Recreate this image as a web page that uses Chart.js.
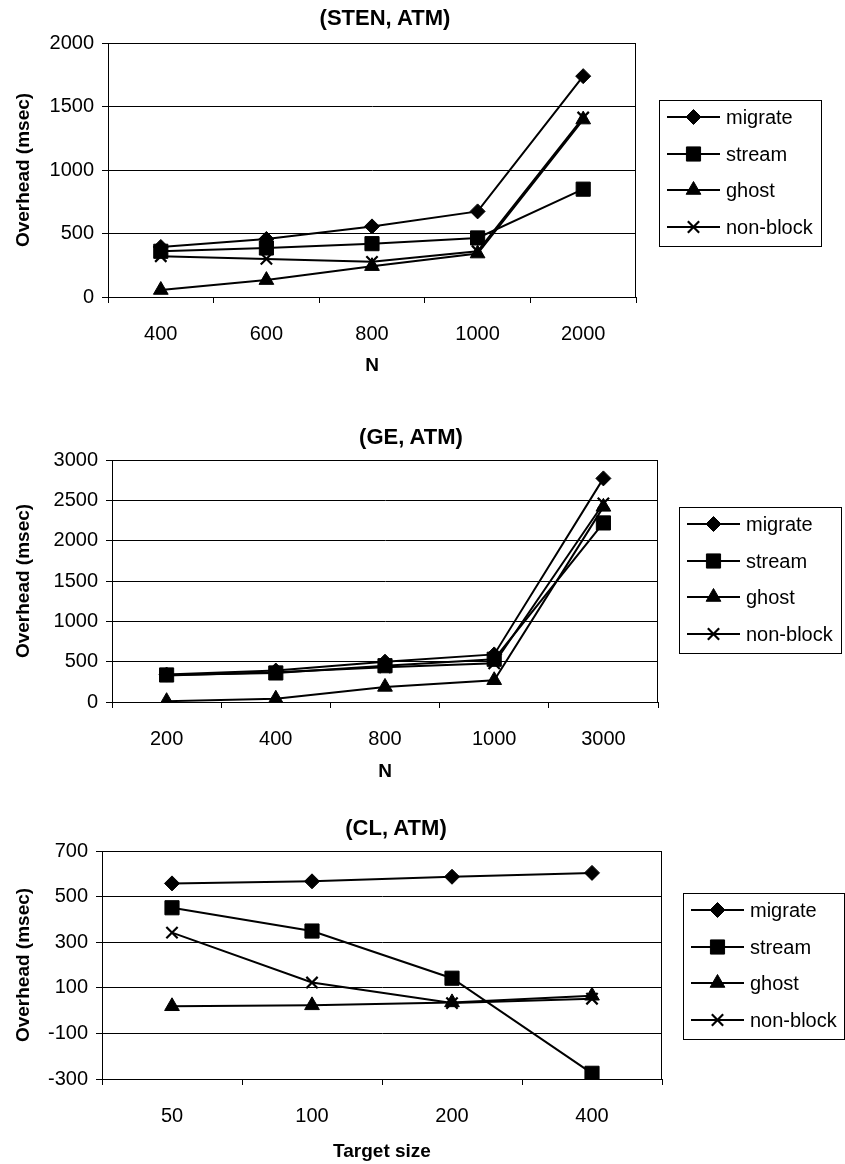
<!DOCTYPE html>
<html><head><meta charset="utf-8">
<script src="https://cdn.jsdelivr.net/npm/chart.js@4.4.1/dist/chart.umd.min.js"></script>
<style>
html,body{margin:0;padding:0;background:#fff;}
body{width:845px;height:1164px;position:relative;overflow:hidden;font-family:"Liberation Sans",Arial,sans-serif;color:#000;}
.cv{position:absolute;left:0;width:845px;}
.title{position:absolute;font-weight:bold;font-size:22px;transform:translate(-50%,-50%);white-space:nowrap;line-height:1;}
.legend{position:absolute;border:1px solid #000;box-sizing:border-box;background:#fff;}
.row{position:absolute;left:0;height:30px;display:flex;align-items:center;white-space:nowrap;}
.row span{font-size:20px;line-height:1;}
</style>
</head><body>
<script>
// ---------- DATA ----------
const seriesNames = ['migrate', 'stream', 'ghost', 'non-block'];

const categories1 = ['400', '600', '800', '1000', '2000'];
const migrate1  = [394, 457, 556, 674, 1739];
const stream1   = [360, 386, 420, 465, 849];
const ghost1    = [55, 133, 243, 342, 1397];
const nonblock1 = [321, 300, 277, 360, 1413];
const yTicks1   = [0, 500, 1000, 1500, 2000];

const categories2 = ['200', '400', '800', '1000', '3000'];
const migrate2  = [340, 390, 500, 590, 2772];
const stream2   = [335, 360, 450, 530, 2220];
const ghost2    = [10, 40, 187, 270, 2419];
const nonblock2 = [330, 370, 430, 480, 2461];
const yTicks2   = [0, 500, 1000, 1500, 2000, 2500, 3000];

const categories3 = ['50', '100', '200', '400'];
const migrate3  = [558, 567, 587, 604];
const stream3   = [451, 349, 142, -275];
const ghost3    = [19, 23, 36, 65];
const nonblock3 = [342, 123, 33, 52];
const yTicks3   = [-300, -100, 100, 300, 500, 700];

const titles = ['(STEN, ATM)', '(GE, ATM)', '(CL, ATM)'];
const xTitles = ['N', 'N', 'Target size'];
const yTitle = 'Overhead (msec)';

// ---------- STYLE / LAYOUT ----------
const FONT = '"Liberation Sans", Arial, sans-serif';
const pointStyles = ['rectRot', 'rect', 'triangle', 'crossRot'];
const pointRadii = [7.5, 10, 8.5, 8];
const pointBorders = [1, 1, 1, 2.2];

const layouts = [
  {top: 20, bottom: 385, plotTop: 43, plotBottom: 297, plotLeft: 108, plotRight: 636, xTitleY: 366,
   titleX: 385, titleY: 18, legend: {left: 659, top: 100, width: 163, height: 147}},
  {top: 400, bottom: 790, plotTop: 460, plotBottom: 702, plotLeft: 112, plotRight: 658, xTitleY: 772,
   titleX: 411, titleY: 437, legend: {left: 679, top: 507, width: 163, height: 147}},
  {top: 800, bottom: 1164, plotTop: 851, plotBottom: 1079, plotLeft: 102, plotRight: 662, xTitleY: 1152,
   titleX: 396, titleY: 828, legend: {left: 683, top: 893, width: 162, height: 147}}
];

const chartData = [
  {labels: categories1, series: [migrate1, stream1, ghost1, nonblock1], yTicks: yTicks1},
  {labels: categories2, series: [migrate2, stream2, ghost2, nonblock2], yTicks: yTicks2},
  {labels: categories3, series: [migrate3, stream3, ghost3, nonblock3], yTicks: yTicks3}
];

const frame = {
  id: 'frame',
  afterDraw(chart) {
    const a = chart.chartArea, ctx = chart.ctx;
    ctx.save();
    ctx.strokeStyle = '#000';
    ctx.lineWidth = 1;
    ctx.strokeRect(Math.round(a.left) + 0.5, Math.round(a.top) + 0.5,
                   Math.round(a.right - a.left) - 1, Math.round(a.bottom - a.top));
    ctx.restore();
  }
};

function drawMarker(ctx, i, x, y) {
  ctx.fillStyle = '#000';
  ctx.strokeStyle = '#000';
  ctx.lineWidth = pointBorders[i];
  if (Chart.helpers && Chart.helpers.drawPoint) {
    Chart.helpers.drawPoint(ctx, {pointStyle: pointStyles[i], rotation: 0, radius: pointRadii[i], borderWidth: pointBorders[i]}, x, y);
  }
}

function makeLegend(L) {
  const box = document.createElement('div');
  box.className = 'legend';
  box.style.left = L.left + 'px'; box.style.top = L.top + 'px';
  box.style.width = L.width + 'px'; box.style.height = L.height + 'px';
  const rowGap = 36.7, first = 17;
  seriesNames.forEach((name, i) => {
    const row = document.createElement('div');
    row.className = 'row';
    row.style.top = (first + i * rowGap - 15 - 1) + 'px';
    const c = document.createElement('canvas');
    c.width = 60; c.height = 30;
    c.style.width = '60px'; c.style.height = '30px';
    c.style.marginLeft = '6px';
    const ctx = c.getContext('2d');
    ctx.strokeStyle = '#000'; ctx.lineWidth = 2;
    ctx.beginPath(); ctx.moveTo(1, 15); ctx.lineTo(54, 15); ctx.stroke();
    drawMarker(ctx, i, 27.5, 15);
    const s = document.createElement('span');
    s.textContent = name;
    row.appendChild(c); row.appendChild(s);
    box.appendChild(row);
  });
  document.body.appendChild(box);
}

function makeChart(k) {
  const L = layouts[k], D = chartData[k];
  const wrap = document.createElement('div');
  wrap.className = 'cv';
  wrap.style.top = L.top + 'px';
  wrap.style.height = (L.bottom - L.top) + 'px';
  const canvas = document.createElement('canvas');
  wrap.appendChild(canvas);
  document.body.appendChild(wrap);

  const t = document.createElement('div');
  t.className = 'title';
  t.textContent = titles[k];
  t.style.left = L.titleX + 'px'; t.style.top = L.titleY + 'px';
  document.body.appendChild(t);

  makeLegend(L.legend);

  const xTitleLH = 19 * 1.2;
  new Chart(canvas, {
    type: 'line',
    data: {
      labels: D.labels,
      datasets: D.series.map((vals, i) => ({
        label: seriesNames[i], data: vals,
        borderColor: '#000', backgroundColor: '#000', borderWidth: 2,
        pointStyle: pointStyles[i], pointRadius: pointRadii[i], pointHoverRadius: pointRadii[i],
        pointBorderWidth: pointBorders[i], pointBorderColor: '#000', pointBackgroundColor: '#000',
        tension: 0, fill: false
      }))
    },
    options: {
      responsive: true, maintainAspectRatio: false, animation: false,
      layout: {padding: {left: 0, right: 845 - L.plotRight, top: L.plotTop - L.top, bottom: 0}},
      plugins: {legend: {display: false}, title: {display: false}, tooltip: {enabled: false}},
      scales: {
        x: {
          type: 'category', offset: true,
          grid: {display: true, drawOnChartArea: false, offset: true, tickLength: 6, color: '#000', tickColor: '#000', lineWidth: 1},
          border: {display: true, color: '#000', width: 1},
          ticks: {color: '#000', font: {family: FONT, size: 20}, padding: 19, maxRotation: 0, minRotation: 0, autoSkip: false},
          title: {display: true, text: xTitles[k], color: '#000', font: {family: FONT, size: 19, weight: 'bold'},
                  padding: {top: 0, bottom: L.bottom - L.xTitleY - xTitleLH / 2}},
          afterFit: s => { s.height = L.bottom - L.plotBottom; }
        },
        y: {
          min: D.yTicks[0], max: D.yTicks[D.yTicks.length - 1],
          grid: {color: '#000', tickColor: '#000', tickLength: 6, lineWidth: 1},
          border: {display: true, color: '#000', width: 1},
          ticks: {color: '#000', font: {family: FONT, size: 20}, padding: 8, callback: v => String(v)},
          afterBuildTicks: s => { s.ticks = D.yTicks.map(v => ({value: v})); },
          title: {display: true, text: yTitle, color: '#000', font: {family: FONT, size: 19, weight: 'bold'},
                  padding: {top: 12, bottom: 0}},
          afterFit: s => { s.width = L.plotLeft; }
        }
      }
    },
    plugins: [frame]
  });
}

[0, 1, 2].forEach(makeChart);
</script>
</body></html>
